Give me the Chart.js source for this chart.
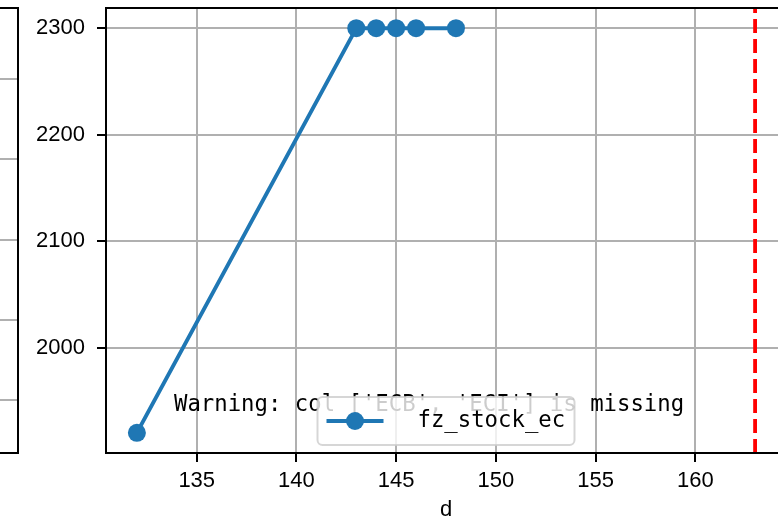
<!DOCTYPE html>
<html>
<head>
<meta charset="utf-8">
<script src="https://cdn.jsdelivr.net/npm/chart.js@4.4.0/dist/chart.umd.min.js"></script>
<style>
  html, body { margin: 0; padding: 0; background: #fff; overflow: hidden; }
  #wrap { position: relative; width: 778px; height: 523px; overflow: hidden; }
  #mainChart { position: absolute; left: 0; top: 0; }
  #sideChart { position: absolute; left: -282px; top: 0; }
</style>
</head>
<body>
<div id="wrap">
  <canvas id="sideChart" width="310" height="523"></canvas>
  <canvas id="mainChart" width="790" height="523"></canvas>
</div>
<script>
// data
const seriesLabel = 'fz_stock_ec';
const dValues = [132, 143, 144, 145, 146, 148];
const stockValues = [1920, 2300, 2300, 2300, 2300, 2300];
const vlineX = [163];
const xTicks = [135, 140, 145, 150, 155, 160];
const yTicks = [2000, 2100, 2200, 2300];
const xRange = [130.45, 164.55];
const yRange = [1901, 2319];
const warningText = "Warning: col ['ECB', 'ECI'] is missing";

// left neighbour panel (only its right edge is visible)
const sideTicks = [0, 1, 2, 3, 4];
const sideRange = [-0.66, 4.885];

const tickFont = { family: 'Liberation Sans', size: 22 };
const monoFont = '22.3px "DejaVu Sans Mono"';
const gridColor = '#b0b0b0';

// spines
const framePlugin = {
    id: 'frame',
    afterDatasetsDraw(chart) {
        const { ctx, chartArea: a } = chart;
        ctx.save();
        ctx.strokeStyle = '#000';
        ctx.lineWidth = 2;
        ctx.strokeRect(a.left, a.top, a.right - a.left, a.bottom - a.top);
        ctx.restore();
    }
};

// text note + legend on top
const notePlugin = {
    id: 'note',
    afterDraw(chart) {
        const { ctx, chartArea: a } = chart;
        const w = a.right - a.left;
        const h = a.bottom - a.top;
        ctx.save();
        ctx.font = monoFont;
        ctx.fillStyle = '#000';
        ctx.textBaseline = 'alphabetic';
        ctx.textAlign = 'left';
        ctx.fillText(warningText, a.left + 0.1 * w, a.bottom - 0.095 * h);

        // legend box, lower center
        const ds = chart.data.datasets[0];
        const bw = 257, bh = 48;
        const bx = (a.left + a.right) / 2 - bw / 2;
        const by = a.bottom - 8 - bh;
        ctx.beginPath();
        ctx.roundRect(bx, by, bw, bh, 5);
        ctx.fillStyle = 'rgba(255,255,255,0.8)';
        ctx.fill();
        ctx.strokeStyle = 'rgba(204,204,204,0.8)';
        ctx.lineWidth = 2;
        ctx.stroke();

        const cy = by + bh / 2;
        ctx.strokeStyle = ds.borderColor;
        ctx.lineWidth = ds.borderWidth;
        ctx.beginPath();
        ctx.moveTo(bx + 9, cy);
        ctx.lineTo(bx + 66, cy);
        ctx.stroke();
        ctx.fillStyle = ds.pointBackgroundColor;
        ctx.beginPath();
        ctx.arc(bx + 37.5, cy, ds.pointRadius, 0, Math.PI * 2);
        ctx.fill();

        ctx.fillStyle = '#000';
        ctx.font = monoFont;
        ctx.textBaseline = 'middle';
        ctx.fillText(ds.label, bx + 100, cy);
        ctx.restore();
    }
};

function noPad(s) {
    s.paddingTop = 0;
    s.paddingBottom = 0;
    s.paddingLeft = 0;
    s.paddingRight = 0;
}

new Chart(document.getElementById('mainChart'), {
    type: 'line',
    data: {
        datasets: [{
            label: seriesLabel,
            data: dValues.map((d, i) => ({ x: d, y: stockValues[i] })),
            borderColor: '#1f77b4',
            backgroundColor: '#1f77b4',
            pointBackgroundColor: '#1f77b4',
            borderWidth: 3.8,
            pointRadius: 9,
            pointBorderWidth: 0,
            tension: 0
        }, {
            label: 'vline',
            data: [{ x: vlineX[0], y: yRange[0] }, { x: vlineX[0], y: yRange[1] }],
            borderColor: '#ff0000',
            borderWidth: 3.8,
            borderDash: [14, 6],
            pointRadius: 0
        }]
    },
    options: {
        responsive: false,
        animation: false,
        layout: { autoPadding: false, padding: { top: 8, right: 4, left: 0, bottom: 0 } },
        plugins: { legend: { display: false }, tooltip: { enabled: false } },
        scales: {
            x: {
                type: 'linear',
                min: xRange[0],
                max: xRange[1],
                afterBuildTicks: s => { s.ticks = xTicks.map(v => ({ value: v })); },
                afterFit: s => { s.height = 70; noPad(s); },
                ticks: { font: tickFont, color: '#000', padding: 6, maxRotation: 0, autoSkip: false,
                         callback: v => String(v) },
                grid: { color: gridColor, lineWidth: 2, tickColor: '#000', tickLength: 9, tickWidth: 2 },
                border: { display: false },
                title: { display: true, text: 'd', font: tickFont, color: '#000', padding: { top: 0, bottom: 0 } }
            },
            y: {
                type: 'linear',
                min: yRange[0],
                max: yRange[1],
                afterBuildTicks: s => { s.ticks = yTicks.map(v => ({ value: v })); },
                afterFit: s => { s.width = 106; noPad(s); },
                ticks: { font: tickFont, color: '#000', padding: 12, callback: v => String(v) },
                grid: { color: gridColor, lineWidth: 2, tickColor: '#000', tickLength: 9, tickWidth: 2 },
                border: { display: false }
            }
        }
    },
    plugins: [framePlugin, notePlugin]
});

new Chart(document.getElementById('sideChart'), {
    type: 'line',
    data: { datasets: [{ data: [] }] },
    options: {
        responsive: false,
        animation: false,
        layout: { autoPadding: false, padding: { top: 8, right: 10, left: 0, bottom: 70 } },
        plugins: { legend: { display: false }, tooltip: { enabled: false } },
        scales: {
            x: { type: 'linear', display: false, min: 0, max: 1 },
            y: {
                type: 'linear',
                min: sideRange[0],
                max: sideRange[1],
                afterBuildTicks: s => { s.ticks = sideTicks.map(v => ({ value: v })); },
                afterFit: s => { s.width = 60; noPad(s); },
                ticks: { display: false },
                grid: { color: gridColor, lineWidth: 2, drawTicks: false },
                border: { display: false }
            }
        }
    },
    plugins: [framePlugin]
});
</script>
</body>
</html>
